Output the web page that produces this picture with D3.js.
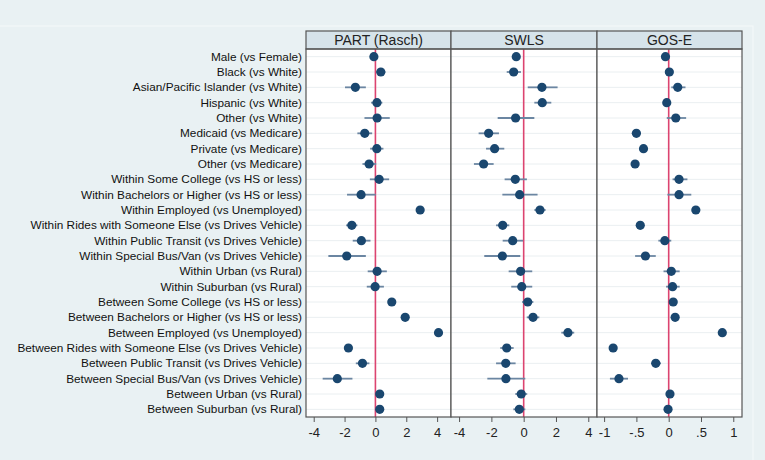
<!DOCTYPE html>
<html>
<head>
<meta charset="utf-8">
<script src="https://cdn.jsdelivr.net/npm/d3@7"></script>
<style>
html,body{margin:0;padding:0;background:#e9f1f3;}
svg{display:block;font-family:"Liberation Sans",Arial,sans-serif;}
</style>
</head>
<body>
<svg id="chart" width="765" height="460"></svg>
<script>
const categories = [
  "Male (vs Female)","Black (vs White)","Asian/Pacific Islander (vs White)","Hispanic (vs White)",
  "Other (vs White)","Medicaid (vs Medicare)","Private (vs Medicare)","Other (vs Medicare)",
  "Within Some College (vs HS or less)","Within Bachelors or Higher (vs HS or less)",
  "Within Employed (vs Unemployed)","Within Rides with Someone Else (vs Drives Vehicle)",
  "Within Public Transit (vs Drives Vehicle)","Within Special Bus/Van (vs Drives Vehicle)",
  "Within Urban (vs Rural)","Within Suburban (vs Rural)",
  "Between Some College (vs HS or less)","Between Bachelors or Higher (vs HS or less)",
  "Between Employed (vs Unemployed)","Between Rides with Someone Else (vs Drives Vehicle)",
  "Between Public Transit (vs Drives Vehicle)","Between Special Bus/Van (vs Drives Vehicle)",
  "Between Urban (vs Rural)","Between Suburban (vs Rural)"
];
const panelTitles = ["PART (Rasch)","SWLS","GOS-E"];

const partEst = [-0.1,0.35,-1.3,0.1,0.11,-0.69,0.09,-0.41,0.24,-0.93,2.9,-1.53,-0.91,-1.86,0.11,-0.02,1.06,1.93,4.09,-1.75,-0.84,-2.47,0.28,0.28];
const partLo  = [-0.3,0.05,-1.97,-0.28,-0.71,-1.17,-0.34,-0.84,-0.36,-1.84,2.7,-1.9,-1.47,-3.05,-0.5,-0.56,0.9,1.75,3.9,-1.95,-1.27,-3.42,0.1,0.1];
const partHi  = [0.1,0.65,-0.62,0.45,0.93,-0.21,0.52,0.05,0.89,0.02,3.1,-1.17,-0.32,-0.62,0.74,0.55,1.22,2.11,4.28,-1.55,-0.39,-1.49,0.46,0.46];

const swlsEst = [-0.46,-0.62,1.13,1.15,-0.5,-2.17,-1.8,-2.48,-0.52,-0.25,1.01,-1.3,-0.68,-1.32,-0.19,-0.12,0.25,0.58,2.74,-1.05,-1.11,-1.1,-0.15,-0.27];
const swlsLo  = [-0.66,-1.05,0.25,0.66,-1.61,-2.79,-2.33,-3.08,-1.18,-1.32,0.66,-1.71,-1.3,-2.44,-0.93,-0.77,-0.1,0.19,2.33,-1.45,-1.71,-2.25,-0.52,-0.64];
const swlsHi  = [-0.26,-0.17,2.1,1.71,0.66,-1.53,-1.2,-1.86,0.2,0.86,1.36,-0.89,-0.04,-0.21,0.53,0.53,0.6,0.97,3.13,-0.62,-0.5,0.1,0.22,0.1];

const gosEst = [-0.05,0.01,0.14,-0.03,0.11,-0.5,-0.39,-0.52,0.16,0.16,0.42,-0.44,-0.06,-0.36,0.04,0.06,0.07,0.1,0.83,-0.86,-0.2,-0.77,0.02,-0.01];
const gosLo  = [-0.09,-0.03,0.04,-0.07,-0.03,-0.57,-0.44,-0.57,0.06,-0.02,0.38,-0.49,-0.16,-0.52,-0.08,-0.04,0.03,0.06,0.79,-0.9,-0.27,-0.91,-0.02,-0.05];
const gosHi  = [-0.01,0.05,0.26,0.01,0.27,-0.43,-0.34,-0.47,0.29,0.35,0.46,-0.39,0.04,-0.2,0.17,0.17,0.11,0.14,0.87,-0.82,-0.12,-0.63,0.06,0.03];

const tickValsA = [-4,-2,0,2,4];
const tickLabelsA = ["-4","-2","0","2","4"];
const tickValsC = [-1,-0.5,0,0.5,1];
const tickLabelsC = ["-1","-.5","0",".5","1"];

const panels = [
  {title: panelTitles[0], est: partEst, lo: partLo, hi: partHi, domain: [-4.5, 4.9], ticks: tickValsA, labels: tickLabelsA, x0: 306, x1: 451},
  {title: panelTitles[1], est: swlsEst, lo: swlsLo, hi: swlsHi, domain: [-4.5, 4.54], ticks: tickValsA, labels: tickLabelsA, x0: 451, x1: 597},
  {title: panelTitles[2], est: gosEst, lo: gosLo, hi: gosHi, domain: [-1.11, 1.135], ticks: tickValsC, labels: tickLabelsC, x0: 597, x1: 742}
];

const svg = d3.select("#chart");
const headTop = 31, plotTop = 49, plotBottom = 417;

// faint outer frame
svg.append("rect").attr("x", -2).attr("y", 26).attr("width", 755).attr("height", 440)
  .attr("fill", "none").attr("stroke", "#f5f9fa").attr("stroke-width", 1);

const y = d3.scaleBand().domain(categories).range([plotTop, plotBottom]).padding(0);

// row labels
svg.append("g").selectAll("text").data(categories).join("text")
  .attr("x", 302).attr("y", d => y(d) + y.bandwidth()/2)
  .attr("dy", "0.35em").attr("text-anchor", "end")
  .attr("font-size", 11.8).attr("fill", "#111").text(d => d);

panels.forEach(p => {
  const x = d3.scaleLinear().domain(p.domain).range([p.x0, p.x1]);
  const g = svg.append("g");
  g.append("rect").attr("x", p.x0).attr("y", plotTop).attr("width", p.x1 - p.x0).attr("height", plotBottom - plotTop)
    .attr("fill", "#ffffff");
  g.append("g").selectAll("line").data(categories).join("line")
    .attr("x1", p.x0).attr("x2", p.x1)
    .attr("y1", d => y(d) + y.bandwidth()/2).attr("y2", d => y(d) + y.bandwidth()/2)
    .attr("stroke", "#eaeff1").attr("stroke-width", 1);
  g.append("line").attr("x1", x(0)).attr("x2", x(0)).attr("y1", plotTop).attr("y2", plotBottom)
    .attr("stroke", "#dc4470").attr("stroke-width", 1.6);
  g.append("g").selectAll("line").data(categories).join("line")
    .attr("x1", (d, i) => x(p.lo[i])).attr("x2", (d, i) => x(p.hi[i]))
    .attr("y1", d => y(d) + y.bandwidth()/2).attr("y2", d => y(d) + y.bandwidth()/2)
    .attr("stroke", "#6b86a2").attr("stroke-width", 1.8);
  g.append("g").selectAll("circle").data(categories).join("circle")
    .attr("cx", (d, i) => x(p.est[i])).attr("cy", d => y(d) + y.bandwidth()/2)
    .attr("r", 4.6).attr("fill", "#1a476f");
  g.append("rect").attr("x", p.x0).attr("y", headTop).attr("width", p.x1 - p.x0).attr("height", plotTop - headTop)
    .attr("fill", "#d6e3ea").attr("stroke", "#555").attr("stroke-width", 1.2);
  g.append("text").attr("x", (p.x0 + p.x1)/2).attr("y", (headTop + plotTop)/2).attr("dy", "0.36em")
    .attr("text-anchor", "middle").attr("font-size", 14).attr("fill", "#222").text(p.title);
  g.append("rect").attr("x", p.x0).attr("y", plotTop).attr("width", p.x1 - p.x0).attr("height", plotBottom - plotTop)
    .attr("fill", "none").attr("stroke", "#555").attr("stroke-width", 1.2);
  const ax = d3.axisBottom(x).tickValues(p.ticks).tickSize(5).tickSizeOuter(0)
    .tickFormat((d, i) => p.labels[i]);
  const axg = g.append("g").attr("transform", `translate(0,${plotBottom})`).call(ax);
  axg.select(".domain").remove();
  axg.selectAll(".tick line").attr("stroke", "#555");
  axg.selectAll(".tick text").attr("font-size", 13).attr("fill", "#222").attr("dy", "0.9em")
    .attr("font-family", "'Liberation Sans', Arial, sans-serif");
});
</script>
</body>
</html>
